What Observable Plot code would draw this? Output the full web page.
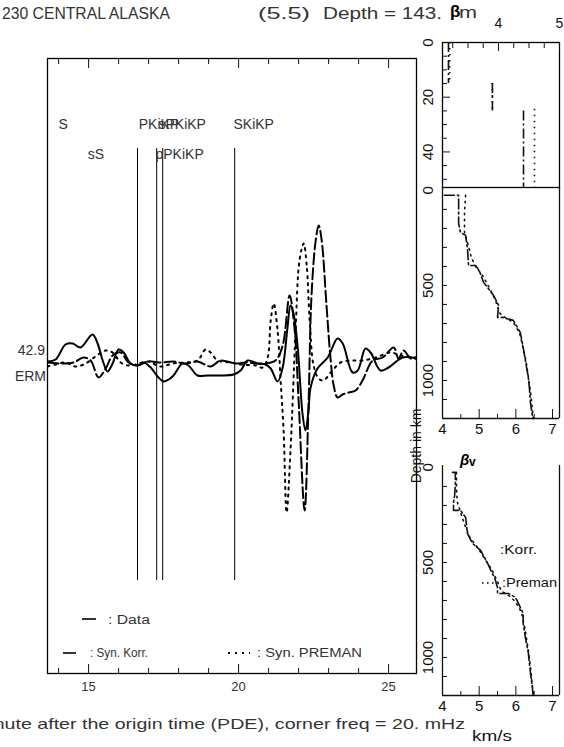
<!DOCTYPE html>
<html><head><meta charset="utf-8">
<script src="https://cdn.jsdelivr.net/npm/d3@7"></script>
<script src="https://cdn.jsdelivr.net/npm/@observablehq/plot@0.6"></script>
<style>
body{margin:0;background:#fff}
#wrap{position:relative;width:564px;height:747px;overflow:hidden;background:#fff}
#wrap svg{position:absolute;left:0;top:0;max-width:none}
</style></head><body><div id="wrap"></div>
<script>
// ---------- waveform data (time in minutes after origin, amplitude arbitrary) ----------
const dataT = [13.63,13.90,14.23,14.47,14.73,15.13,15.30,15.47,15.63,15.80,16.00,16.17,16.40,16.63,16.83,17.07,17.30,17.50,17.67,17.83,18.13,18.33,18.63,18.97,19.40,19.83,20.07,20.30,20.63,20.90,21.07,21.30,21.47,21.63,21.73,21.83,21.97,22.13,22.23,22.33,22.40,22.63,22.97,23.30,23.47,23.80,23.97,24.23,24.40,24.73,25.00,25.47,25.93];
const dataA = [4,6,21,22,18,31,22,5,-6,2,16,13,2,0,3,-2,-11,-16,-14,-10,2,0,-10,-10,-10,-9,-5,5,2,1,-3,-16,-2,38,60,52,18,-48,-65,-45,-22,-3,8,27,22,-7,-5,17,13,-5,-2,8,7];
const korrT = [13.63,14.07,14.50,14.83,15.07,15.33,15.57,15.80,16.07,16.33,16.63,16.97,17.40,17.80,18.23,18.63,19.07,19.40,19.90,20.23,20.57,20.90,21.23,21.47,21.70,21.87,22.00,22.20,22.33,22.43,22.57,22.67,22.77,22.93,23.07,23.17,23.30,23.47,23.67,23.90,24.13,24.47,24.80,25.17,25.33,25.50,25.73,25.93];
const korrA = [3,2,3,8,5,-12,-3,10,13,3,0,4,3,4,2,4,-1,5,2,3,2,2,5,20,70,35,-35,-145,-40,70,125,140,125,60,5,-20,-32,-29,-27,-25,-15,5,8,18,7,15,7,7];
const premT = [13.63,13.90,14.23,14.57,14.90,15.23,15.57,15.80,16.07,16.30,16.57,16.97,17.40,17.80,18.23,18.63,18.90,19.07,19.30,19.73,20.07,20.57,20.80,20.97,21.07,21.17,21.30,21.40,21.50,21.60,21.73,21.90,22.03,22.17,22.27,22.37,22.50,22.67,22.83,23.07,23.40,23.73,24.13,24.57,25.07,25.40,25.93];
const premA = [-1,1,3,-1,2,9,15,13,3,0,1,4,-1,2,3,5,16,13,5,3,1,0,-2,8,45,62,35,-15,-65,-147,-85,35,105,122,100,45,0,-13,-15,-7,3,5,5,8,13,10,8];

// phases
const phaseLineT = [16.63, 17.27, 17.47, 19.87];
const phaseNames = ["S","PKiKP","sPKiKP","SKiKP","sS","pPKiKP"];
const phaseLabelT = [14.0, 16.67, 17.33, 19.83, 14.97, 17.23];
const phaseRow = [0,0,0,0,1,1];

// main axis ticks
const mainMajor = [15,20,25];
const mainMinor = [14,16,17,18,19,21,22,23,24];

// ---------- velocity profiles ----------
const korrCrustV = [3.18, 3.90, 4.41];
const korrCrustTop = [0, 15, 25];
const korrCrustBot = [15, 25, 53];
const premCrustV = [3.20, 3.90, 4.59];
const premCrustTop = [0, 15, 24.4];
const premCrustBot = [15, 24.4, 53];
const crustMinorTicks = [5,10,15,25,30,35,45,50];
const crustMajorTicks = [0,20,40];
const crustXMinor = [3.25,3.5,3.75,4.25,4.5,4.75];
const crustXMajor = [4,5];

const hKorrV = [4.05,4.44,4.44,4.49,4.63,4.68,4.71,4.90,5.00,5.12,5.39,5.53,5.50,5.63,5.93,6.12,6.20,6.26,6.34,6.37,6.40,6.45,6.47];
const hKorrD = [26,26,175,221,237,305,395,395,421,484,552,605,668,668,684,747,826,895,984,1042,1121,1184,1200];
const hPremV = [4.63,4.60,4.60,4.72,4.78,4.90,5.10,5.30,5.45,5.55,5.62,5.77,5.95,6.10,6.20,6.28,6.34,6.40,6.45,6.48];
const hPremD = [26,120,220,300,350,400,450,520,580,640,660,674,700,750,830,900,980,1060,1150,1200];

const vKorrV = [4.27,4.35,4.35,4.33,4.30,4.30,4.49,4.63,4.68,4.82,5.04,5.23,5.36,5.42,5.50,5.50,5.80,5.99,6.20,6.20,6.26,6.34,6.36,6.40,6.45,6.47];
const vKorrD = [26,26,95,150,184,226,226,263,347,400,437,505,558,579,632,663,663,684,768,821,895,974,1016,1084,1158,1200];
const vPremV = [4.38,4.38,4.40,4.50,4.60,4.75,4.95,5.15,5.35,5.50,5.60,5.85,6.00,6.15,6.25,6.33,6.40,6.45,6.48];
const vPremD = [26,100,180,240,300,370,420,480,540,600,650,680,710,760,850,950,1050,1150,1200];

const mantleDepthTicks = [100,200,300,400,500,600,700,800,900,1000,1100];
const mantleDepthLabels = [0,500,1000];
const velMinor = [4.5,5.5,6.5];
const velMajor = [5,6,7];
const velLabels = [4,5,6,7];

// ---------- setup ----------
const W = 564, H = 747;
const FONT = "'Liberation Sans', Arial, sans-serif";
const wrap = document.getElementById("wrap");
const baseStyle = {background:"transparent", fontFamily: FONT, color:"#111", overflow:"visible"};
function add(node){ node.style.position="absolute"; node.style.left="0"; node.style.top="0"; wrap.appendChild(node); }
const rows = (T,A) => T.map((t,i) => ({t, a:A[i]}));
const prof = (V,D) => V.map((v,i) => ({v, d:D[i]}));
const layers = (V,T,B) => V.map((v,i) => ({v, top:T[i], bot:B[i]}));
const noText = () => "";

const KORR_DASH = "10,3,2,3";
const PREM_DOT = "1.5,4.5";

// ---------- main seismogram panel ----------
const phases = phaseNames.map((name,i) => ({name, t:phaseLabelT[i], row:phaseRow[i]}));
add(Plot.plot({
  width: W, height: H,
  marginLeft: 47, marginRight: 148, marginTop: 58, marginBottom: 74,
  style: {...baseStyle, fontSize: "13px"},
  x: {domain: [13.63, 25.93], axis: null, label: null},
  y: {domain: [-308, 307], axis: null, label: null},
  marks: [
    Plot.axisX(mainMinor, {anchor:"bottom", tickSize:-5, tickFormat:noText, label:null}),
    Plot.axisX(mainMajor, {anchor:"bottom", tickSize:-9, tickFormat:noText, label:null}),
    Plot.axisX(mainMinor, {anchor:"top", tickSize:-5, tickFormat:noText, label:null}),
    Plot.axisX(mainMajor, {anchor:"top", tickSize:-9, tickFormat:noText, label:null}),
    Plot.axisX(mainMajor, {anchor:"bottom", tickSize:0, tickPadding:8, fontSize:13, fill:"#333", label:null}),
    Plot.ruleX(phaseLineT, {insetTop: 90, insetBottom: 93, strokeWidth: 1, stroke:"#000"}),
    Plot.text(phases.filter(d => d.row === 0), {x:"t", text:"name", frameAnchor:"top", dy:70, textAnchor:"start", lineAnchor:"bottom", fontSize:14, fill:"#333"}),
    Plot.text(phases.filter(d => d.row === 1), {x:"t", text:"name", frameAnchor:"top", dy:100, textAnchor:"start", lineAnchor:"bottom", fontSize:14, fill:"#333"}),
    Plot.line(rows(premT, premA), {x:"t", y:"a", curve:"catmull-rom", stroke:"#000", strokeWidth:2, strokeDasharray:"2,5", clip:true}),
    Plot.line(rows(korrT, korrA), {x:"t", y:"a", curve:"catmull-rom", stroke:"#000", strokeWidth:2, strokeDasharray:"11,4", clip:true}),
    Plot.line(rows(dataT, dataA), {x:"t", y:"a", curve:"catmull-rom", stroke:"#000", strokeWidth:2, clip:true}),
    Plot.frame({stroke:"#000", strokeWidth:1.3})
  ]
}));

// ---------- crust panel (top right) ----------
add(Plot.plot({
  width: W, height: H,
  marginLeft: 442, marginRight: 5, marginTop: 42, marginBottom: H - 187,
  style: {...baseStyle, fontSize: "13px"},
  x: {domain: [3.082, 5.0], axis: null, label: null},
  y: {domain: [0, 53], reverse: true, axis: null, label: null},
  marks: [
    Plot.frame({stroke:"#000", strokeWidth:1.3}),
    Plot.axisX(crustXMinor, {anchor:"top", tickSize:-5, tickFormat:noText, label:null}),
    Plot.axisX(crustXMajor, {anchor:"top", tickSize:-8, tickFormat:noText, label:null}),
    Plot.axisX(crustXMajor, {anchor:"top", tickSize:0, tickPadding:15, fontSize:14, label:null}),
    Plot.axisY(crustMinorTicks, {anchor:"left", tickSize:-5, tickFormat:noText, label:null}),
    Plot.axisY(crustMajorTicks, {anchor:"left", tickSize:-8, tickFormat:noText, label:null}),
    Plot.text(crustMajorTicks, {y:d=>d, text:d=>String(d), frameAnchor:"left", dx:-14, rotate:-90, textAnchor:"middle", lineAnchor:"middle", fontSize:15}),
    Plot.ruleX(layers(korrCrustV, korrCrustTop, korrCrustBot), {x:"v", y1:"top", y2:"bot", strokeWidth:1.6, strokeDasharray:KORR_DASH}),
    Plot.ruleX(layers(premCrustV, premCrustTop, premCrustBot), {x:"v", y1:"top", y2:"bot", strokeWidth:1.6, strokeDasharray:PREM_DOT})
  ]
}));

// ---------- beta_h mantle panel (middle right) ----------
add(Plot.plot({
  width: W, height: H,
  marginLeft: 442, marginRight: 5, marginTop: 187, marginBottom: H - 418,
  style: {...baseStyle, fontSize: "13px"},
  x: {domain: [4, 7.19], axis: null, label: null},
  y: {domain: [-15, 1200], reverse: true, axis: null, label: null},
  marks: [
    Plot.ruleX([4, 7.19], {strokeWidth:1.3}),
    Plot.ruleY([1200], {strokeWidth:1.3}),
    Plot.axisY(mantleDepthTicks, {anchor:"left", tickSize:-5, tickFormat:noText, label:null}),
    Plot.axisX(velMinor, {anchor:"bottom", tickSize:-4, tickFormat:noText, label:null}),
    Plot.axisX(velMajor, {anchor:"bottom", tickSize:-9, tickFormat:noText, label:null}),
    Plot.axisX(velLabels, {anchor:"bottom", tickSize:0, tickPadding:5, fontSize:15, label:null}),
    Plot.text(mantleDepthLabels, {y:d=>d, text:d=>String(d), frameAnchor:"left", dx:-14, rotate:-90, textAnchor:"middle", lineAnchor:"middle", fontSize:15}),
    Plot.line(prof(hPremV, hPremD), {x:"v", y:"d", strokeWidth:1.6, strokeDasharray:PREM_DOT}),
    Plot.line(prof(hKorrV, hKorrD), {x:"v", y:"d", strokeWidth:1.6, strokeDasharray:KORR_DASH})
  ]
}));

// ---------- beta_v mantle panel (bottom right) ----------
add(Plot.plot({
  width: W, height: H,
  marginLeft: 442, marginRight: 5, marginTop: 465, marginBottom: H - 695,
  style: {...baseStyle, fontSize: "13px"},
  x: {domain: [4, 7.19], axis: null, label: null},
  y: {domain: [-10, 1200], reverse: true, axis: null, label: null},
  marks: [
    Plot.ruleX([4, 7.19], {strokeWidth:1.3}),
    Plot.ruleY([1200], {strokeWidth:1.3}),
    Plot.axisY(mantleDepthTicks, {anchor:"left", tickSize:-5, tickFormat:noText, label:null}),
    Plot.axisX(velMinor, {anchor:"bottom", tickSize:-4, tickFormat:noText, label:null}),
    Plot.axisX(velMajor, {anchor:"bottom", tickSize:-9, tickFormat:noText, label:null}),
    Plot.axisX(velLabels, {anchor:"bottom", tickSize:0, tickPadding:5, fontSize:15, label:null}),
    Plot.text(mantleDepthLabels, {y:d=>d, text:d=>String(d), frameAnchor:"left", dx:-14, rotate:-90, textAnchor:"middle", lineAnchor:"middle", fontSize:15}),
    Plot.line(prof(vPremV, vPremD), {x:"v", y:"d", strokeWidth:1.6, strokeDasharray:PREM_DOT}),
    Plot.line(prof(vKorrV, vKorrD), {x:"v", y:"d", strokeWidth:1.6, strokeDasharray:KORR_DASH})
  ]
}));

// ---------- annotation layer: titles, legends, captions ----------
const ann = d3.create("svg").attr("width", W).attr("height", H)
  .attr("font-family", FONT).style("overflow", "visible");
function txt(str, x, y, {size=14, anchor="start", weight="normal", len=null, rotate=0, fill="#333", style=null}={}) {
  const t = ann.append("text").attr("x", x).attr("y", y).attr("font-size", size)
    .attr("text-anchor", anchor).attr("font-weight", weight).attr("fill", fill).text(str);
  if (len) t.attr("textLength", len).attr("lengthAdjust", "spacingAndGlyphs");
  if (rotate) t.attr("transform", `rotate(${rotate},${x},${y})`);
  if (style) t.attr("font-style", style);
  return t;
}
function seg(x1, x2, y, dash, w=1.6) {
  const l = ann.append("line").attr("x1", x1).attr("x2", x2).attr("y1", y).attr("y2", y)
    .attr("stroke", "#000").attr("stroke-width", w);
  if (dash) l.attr("stroke-dasharray", dash);
}
// header
txt("230 CENTRAL ALASKA", 2, 19, {size:16, len:168});
txt("(5.5)", 258, 19, {size:16, len:52});
txt("Depth = 143.", 323, 19, {size:16, len:119});
txt("β", 450, 17, {size:17, weight:"bold", fill:"#000"});
txt("m", 459, 18, {size:16, len:18});
// station labels
txt("42.9", 45, 355, {size:14, anchor:"end"});
txt("ERM", 46, 381, {size:14, anchor:"end"});
// legend in main panel
seg(82, 96, 619, null);
txt(": Data", 108, 624, {size:12, len:42});
seg(63, 76, 653, null);
txt(": Syn. Korr.", 90, 657, {size:12, len:58});
seg(228, 250, 653, "2,5", 2);
txt(": Syn. PREMAN", 257, 657, {size:12, len:105});
// caption
txt("Minute after the origin time (PDE), corner freq = 20. mHz", -27, 729, {size:15, len:492});
// right panels
txt("Depth in km", 421, 446, {size:14, anchor:"middle", rotate:-90, fill:"#111"});
txt("β", 460, 465, {size:15, weight:"bold", fill:"#000", style:"italic"});
txt("v", 469, 466, {size:12, weight:"bold", fill:"#000"});
txt(":Korr.", 500, 554, {size:13, len:37, fill:"#111"});
seg(482, 496, 583, "1.5,3.5", 1.6);
txt(":Preman", 502, 587, {size:13, len:55, fill:"#111"});
txt("km/s", 472, 741, {size:15, len:40, fill:"#111"});
add(ann.node());
</script></body></html>
